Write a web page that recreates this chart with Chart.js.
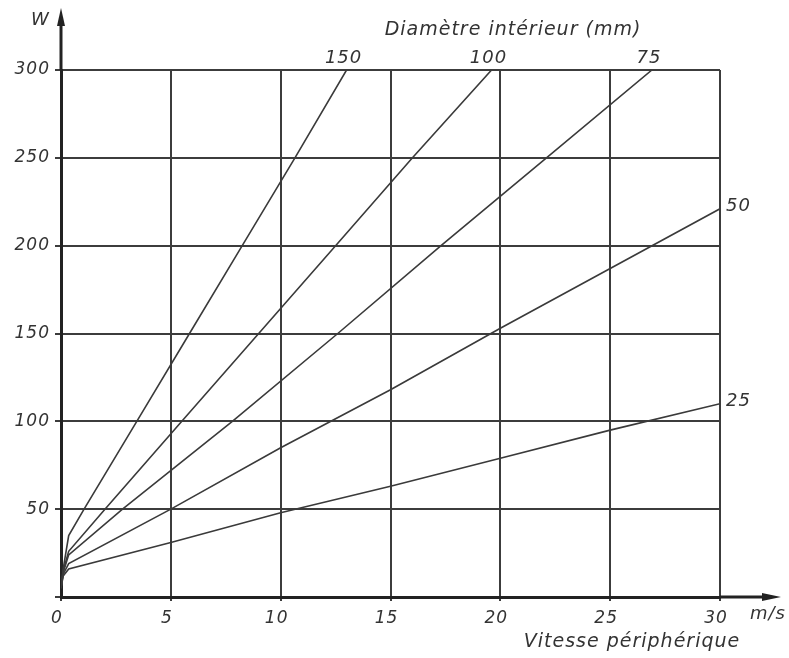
<!DOCTYPE html>
<html>
<head>
<meta charset="utf-8">
<script src="https://cdn.jsdelivr.net/npm/chart.js@4.4.0/dist/chart.umd.min.js"></script>
<style>
  html, body { margin: 0; padding: 0; background: #fff; }
  #wrap { width: 789px; height: 658px; }
</style>
</head>
<body>
<div id="wrap"><canvas id="myChart" width="789" height="658"></canvas></div>
<script>
// Diamètre intérieur (mm) - one curve each
const diameters = ['25', '50', '75', '100', '150'];

// Vitesse périphérique (m/s)
const speed25 = [0, 0.1, 0.35, 5, 10, 15, 20, 25, 30];
const speed50 = [0, 0.1, 0.35, 5, 10, 15, 20, 25, 30];
const speed75 = [0, 0.1, 0.35, 2.8, 7.8, 12.6, 17.3, 22.1, 26.9];
const speed100 = [0, 0.1, 0.35, 2.0, 5.5, 9.0, 12.5, 16.0, 19.6];
const speed150 = [0, 0.1, 0.35, 1.05, 3.45, 5.85, 8.25, 10.65, 13.0];

// Power (W)
const power25 = [5, 12, 16, 31, 48, 63, 79, 95, 110];
const power50 = [5, 13, 19, 50, 85, 118, 153, 187, 221];
const power75 = [5, 14, 24, 50, 100, 150, 200, 250, 300];
const power100 = [5, 15, 26, 50, 100, 150, 200, 250, 300];
const power150 = [5, 16, 35, 50, 100, 150, 200, 250, 300];

// Tick labels
const xTicks = [0, 5, 10, 15, 20, 25, 30];
const yTicks = [0, 50, 100, 150, 200, 250, 300];

const speeds = [speed25, speed50, speed75, speed100, speed150];
const powers = [power25, power50, power75, power100, power150];

const inkColor = '#333';
const fontFamily = '"DejaVu Sans", Verdana, sans-serif';

function toPoints(xs, ys) {
  return xs.map(function(x, i) { return { x: x, y: ys[i] }; });
}

// Axis arrows, axis names and curve labels
const decorPlugin = {
  id: 'decor',
  beforeDraw: function(chart) {
    chart.ctx.letterSpacing = '1px';
  },
  afterDraw: function(chart) {
    const ctx = chart.ctx;
    const xs = chart.scales.x;
    const ys = chart.scales.y;
    const x0 = xs.getPixelForValue(0);
    const y0 = ys.getPixelForValue(0);
    const top = ys.getPixelForValue(300);
    const right = xs.getPixelForValue(30);

    ctx.save();
    ctx.strokeStyle = '#222';
    ctx.fillStyle = '#222';
    ctx.lineWidth = 3;
    // y axis up to arrow
    ctx.beginPath();
    ctx.moveTo(x0, top);
    ctx.lineTo(x0, 22);
    ctx.stroke();
    ctx.beginPath();
    ctx.moveTo(x0, 8);
    ctx.lineTo(x0 - 4, 26);
    ctx.lineTo(x0 + 4, 26);
    ctx.closePath();
    ctx.fill();
    // x axis out to arrow
    ctx.beginPath();
    ctx.moveTo(right, y0);
    ctx.lineTo(766, y0);
    ctx.stroke();
    ctx.beginPath();
    ctx.moveTo(781, y0);
    ctx.lineTo(762, y0 - 4);
    ctx.lineTo(762, y0 + 4);
    ctx.closePath();
    ctx.fill();

    // texts
    ctx.letterSpacing = '1px';
    ctx.fillStyle = inkColor;
    ctx.font = 'italic 18px ' + fontFamily;
    ctx.textBaseline = 'middle';
    ctx.textAlign = 'left';
    ctx.fillText('W', 31, 20);
    ctx.fillText('m/s', 750, 614);
    ctx.font = 'italic 19px ' + fontFamily;
    ctx.textAlign = 'center';
    ctx.fillText('Diamètre intérieur (mm)', 513, 30);
    ctx.fillText('Vitesse périphérique', 632, 642);

    // label each curve at its end
    ctx.font = 'italic 18px ' + fontFamily;
    chart.data.datasets.forEach(function(ds, i) {
      const meta = chart.getDatasetMeta(i);
      const last = meta.data[meta.data.length - 1];
      const endX = speeds[i][speeds[i].length - 1];
      if (endX < 30) {
        ctx.textAlign = 'center';
        ctx.fillText(ds.label, last.x - 3, last.y - 12);
      } else {
        ctx.textAlign = 'left';
        ctx.fillText(ds.label, last.x + 6, last.y - 2);
      }
    });
    ctx.restore();
  }
};

const ctx = document.getElementById('myChart');
const myChart = new Chart(ctx, {
  type: 'line',
  data: {
    datasets: diameters.map(function(d, i) {
      return {
        label: d,
        data: toPoints(speeds[i], powers[i]),
        borderColor: '#3a3a3a',
        borderWidth: 1.6,
        pointRadius: 0,
        fill: false,
        tension: 0
      };
    })
  },
  options: {
    responsive: false,
    animation: false,
    layout: { padding: { left: 0, top: 70, right: 69, bottom: 0 } },
    plugins: {
      legend: { display: false },
      tooltip: { enabled: false }
    },
    scales: {
      x: {
        type: 'linear',
        min: 0,
        max: 30,
        afterFit: function(scale) { scale.height = 61; },
        afterBuildTicks: function(scale) {
          scale.ticks = xTicks.map(function(v) { return { value: v }; });
        },
        border: { color: '#222', width: 3 },
        grid: { color: '#3c3c3c', lineWidth: 2, tickLength: 4 },
        ticks: {
          color: inkColor,
          font: { family: fontFamily, size: 17, style: 'italic' },
          padding: 7,
          labelOffset: -4,
          maxRotation: 0
        }
      },
      y: {
        type: 'linear',
        min: 0,
        max: 300,
        afterFit: function(scale) { scale.width = 61; },
        afterBuildTicks: function(scale) {
          scale.ticks = yTicks.map(function(v) { return { value: v }; });
        },
        border: { color: '#222', width: 3 },
        grid: { color: '#3c3c3c', lineWidth: 2, tickLength: 6 },
        ticks: {
          color: inkColor,
          font: { family: fontFamily, size: 17, style: 'italic' },
          padding: 5,
          callback: function(v) { return v === 0 ? '' : v; }
        }
      }
    }
  },
  plugins: [decorPlugin]
});
</script>
</body>
</html>
